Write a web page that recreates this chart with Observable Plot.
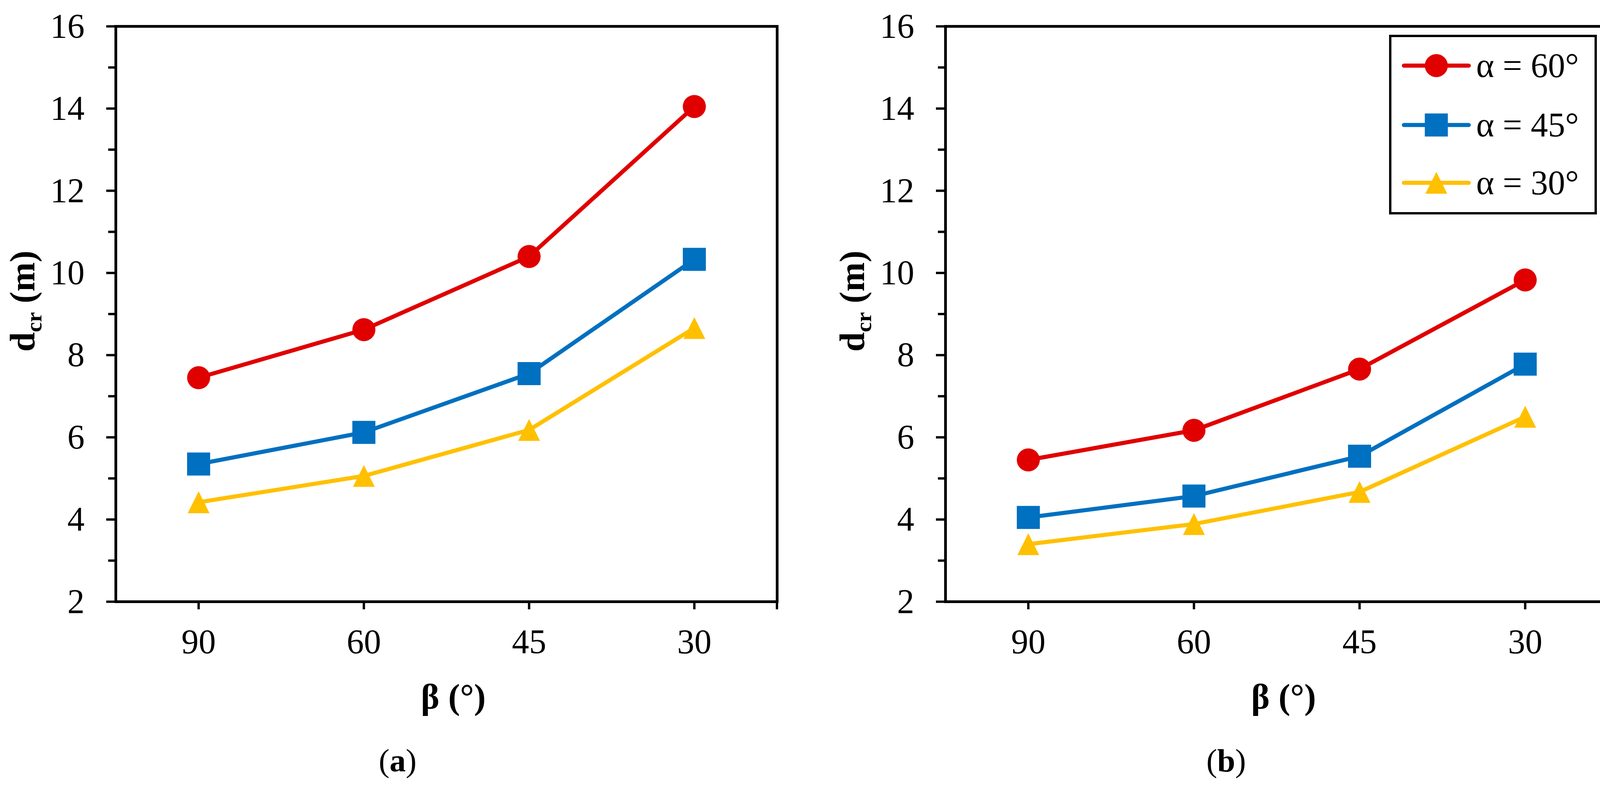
<!DOCTYPE html>
<html>
<head>
<meta charset="utf-8">
<script src="https://cdn.jsdelivr.net/npm/d3@7"></script>
<script src="https://cdn.jsdelivr.net/npm/@observablehq/plot@0.6"></script>
<style>
html, body { margin: 0; padding: 0; background: #fff; }
#fig { position: relative; width: 4143px; height: 2020px; font-family: 'Liberation Serif', 'Times New Roman', serif; background: #fff; }
.panel { position: absolute; top: 0; }
.cap { position: absolute; font-size: 83px; line-height: 1; white-space: nowrap; transform: translate(-50%, -50%); color: #000; }
</style>
</head>
<body>
<div id="fig"></div>
<script>
// ---- data ----
const betaLabels = ["90", "60", "45", "30"];
const seriesNames = ["α = 60°", "α = 45°", "α = 30°"];
const seriesColors = ["#E00000", "#0070C0", "#FFC000"];
const majorTicks = [2, 4, 6, 8, 10, 12, 14, 16];
const minorTicks = [3, 5, 7, 9, 11, 13, 15];

const panelA_alpha60 = [7.45, 8.62, 10.40, 14.05];
const panelA_alpha45 = [5.35, 6.12, 7.55, 10.33];
const panelA_alpha30 = [4.42, 5.06, 6.18, 8.66];

const panelB_alpha60 = [5.45, 6.17, 7.66, 9.83];
const panelB_alpha45 = [4.05, 4.57, 5.54, 7.78];
const panelB_alpha30 = [3.40, 3.89, 4.67, 6.50];

const captions = ["a", "b"];

// ---- helpers ----
function toRows(seriesArrays) {
  const rows = [];
  seriesArrays.forEach((vals, si) => {
    vals.forEach((v, i) => rows.push({series: seriesNames[si], beta: betaLabels[i], value: v}));
  });
  return rows;
}

const symCircle = {draw(ctx, size) { const r = Math.sqrt(size / Math.PI); ctx.moveTo(r, 0); ctx.arc(0, 0, r, 0, 2 * Math.PI); }};
const symSquare = {draw(ctx, size) { const r = Math.sqrt(size / Math.PI); ctx.rect(-r, -r, 2 * r, 2 * r); }};
const symTriangle = {draw(ctx, size) { const r = Math.sqrt(size / Math.PI) * 0.95; ctx.moveTo(0, -r); ctx.lineTo(r, r); ctx.lineTo(-r, r); ctx.closePath(); }};
const seriesSymbols = [symCircle, symSquare, symTriangle];

const FONT = "'Liberation Serif', 'Times New Roman', serif";
const H = 1860, MT = 67, MB = 320;
const R = 29.5;

function panel({rows, width, marginLeft, marginRight, legend}) {
  const seriesMarks = [];
  seriesNames.forEach((name, i) => {
    const d = rows.filter(r => r.series === name);
    seriesMarks.push(Plot.line(d, {x: "beta", y: "value", stroke: seriesColors[i], strokeWidth: 10.5, strokeLinejoin: "round", strokeLinecap: "round"}));
    seriesMarks.push(Plot.dot(d, {x: "beta", y: "value", fill: seriesColors[i], symbol: seriesSymbols[i], r: R, stroke: null}));
  });

  const chart = Plot.plot({
    width, height: H,
    marginTop: MT, marginBottom: MB, marginLeft, marginRight,
    style: {fontFamily: FONT, fontSize: "88px", color: "black", background: "white", overflow: "visible"},
    x: {type: "point", domain: betaLabels, padding: 0.5},
    y: {domain: [2, 16]},
    marks: [
      Plot.axisY(minorTicks, {tickSize: 19, tickFormat: () => "", strokeWidth: 6, label: null}),
      Plot.axisY(majorTicks, {tickSize: 24, tickPadding: 56, tickFormat: d => `${d}`, strokeWidth: 6, fontSize: 88, label: null, fontFamily: FONT}),
      Plot.axisX({tickSize: 20, tickPadding: 49.5, strokeWidth: 6, fontSize: 88, label: null, fontFamily: FONT}),
      ...seriesMarks,
      Plot.frame({stroke: "black", strokeWidth: 7})
    ]
  });

  const svg = d3.select(chart);
  const plotW = width - marginLeft - marginRight;
  const bottom = H - MB;
  // right-end tick of the category axis
  svg.append("line")
    .attr("x1", width - marginRight).attr("x2", width - marginRight)
    .attr("y1", bottom).attr("y2", bottom + 20)
    .attr("stroke", "black").attr("stroke-width", 6);

  // y title
  const yt = svg.append("text")
    .attr("transform", `translate(${marginLeft - 240},771) rotate(-90)`)
    .attr("text-anchor", "middle")
    .attr("dy", "0.35em")
    .attr("font-family", FONT)
    .attr("font-weight", "bold")
    .attr("font-size", 90)
    .attr("fill", "black");
  yt.append("tspan").text("d");
  yt.append("tspan").attr("font-size", 58).attr("dy", 18).text("cr");
  yt.append("tspan").attr("dy", -18).text(" (m)");

  // x title
  svg.append("text")
    .attr("x", marginLeft + plotW / 2 + 18)
    .attr("y", 1782)
    .attr("dy", "0.35em")
    .attr("text-anchor", "middle")
    .attr("font-family", FONT)
    .attr("font-weight", "bold")
    .attr("font-size", 90)
    .attr("fill", "black")
    .text("β (°)");

  if (legend) {
    const g = svg.append("g");
    const bx = marginLeft + plotW - 557, by = 92, bw = 526, bh = 454;
    g.append("rect").attr("x", bx).attr("y", by).attr("width", bw).attr("height", bh)
      .attr("fill", "white").attr("stroke", "black").attr("stroke-width", 6);
    const rowsY = [168, 320, 468];
    seriesNames.forEach((name, i) => {
      const y = rowsY[i];
      g.append("line").attr("x1", bx + 35).attr("x2", bx + 201).attr("y1", y).attr("y2", y)
        .attr("stroke", seriesColors[i]).attr("stroke-width", 10.5).attr("stroke-linecap", "round");
      g.append("path").attr("transform", `translate(${bx + 118},${y})`)
        .attr("d", d3.symbol(seriesSymbols[i], Math.PI * R * R)())
        .attr("fill", seriesColors[i]);
      g.append("text").attr("x", bx + 220).attr("y", y).attr("dy", "0.33em")
        .attr("text-anchor", "start")
        .attr("font-family", FONT).attr("font-size", 88).attr("fill", "black")
        .text(name);
    });
  }
  return chart;
}

const fig = document.getElementById("fig");

const a = panel({rows: toRows([panelA_alpha60, panelA_alpha45, panelA_alpha30]), width: 2071, marginLeft: 296, marginRight: 82, legend: false});
a.classList.add("panel"); a.style.left = "0px";
fig.appendChild(a);

const b = panel({rows: toRows([panelB_alpha60, panelB_alpha45, panelB_alpha30]), width: 2072, marginLeft: 349, marginRight: 27, legend: true});
b.classList.add("panel"); b.style.left = "2071px";
fig.appendChild(b);

const capX = [1018, 3139];
captions.forEach((c, i) => {
  const div = document.createElement("div");
  div.className = "cap";
  div.style.left = capX[i] + "px";
  div.style.top = "1947px";
  div.innerHTML = "(<b>" + c + "</b>)";
  fig.appendChild(div);
});
</script>
</body>
</html>
